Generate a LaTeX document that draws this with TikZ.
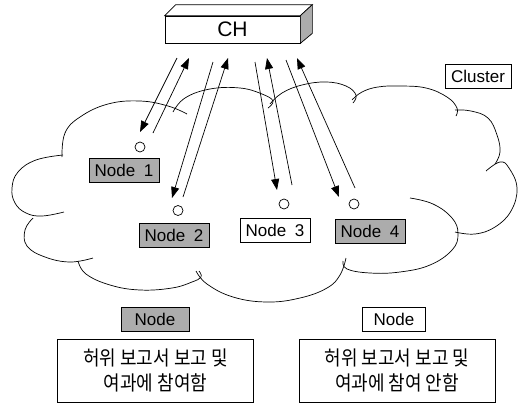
\documentclass[tikz,border=0pt]{standalone}
\usepackage{fontspec}
\setmainfont{Liberation Sans}
\newfontfamily\hangul{Noto Sans CJK KR}
\usetikzlibrary{arrows.meta,calc}
\definecolor{stipple}{RGB}{172,172,172}
\newcommand{\tallline}[1]{\scalebox{1}[1.12]{#1}}
\tikzset{
  thin line/.style={line width=0.7pt},
  label box/.style={draw, thin line, minimum width=70pt, minimum height=24pt,
    inner sep=0pt, font=\fontsize{17}{20}\selectfont},
  shaded box/.style={label box, fill=stipple},
  plain box/.style={label box, fill=white},
  antenna/.style={draw, thin line, circle, minimum size=10pt, inner sep=0pt},
  link/.style={thin line, -{Triangle[length=11pt,width=8pt]}},
  lump/.style={thin line},
  note box/.style={draw, thin line, minimum width=196pt, minimum height=63pt,
    inner sep=0pt, align=center, font=\hangul\fontsize{18}{25}\selectfont},
}
\begin{document}
\begin{tikzpicture}[x=1pt,y=-1pt]
\useasboundingbox (0,0) rectangle (525,405);

% cloud outline, one arc per lump
\draw[lump] plot[smooth,tension=0.7] coordinates {(64,212) (42,216) (26,213) (15,203) (12,188) (18,172) (36,160) (63,155)};
\draw[lump] plot[smooth,tension=0.7] coordinates {(62,157) (65,133) (80,117) (108,104) (140,101) (168,106) (187,114)};
\draw[lump] plot[smooth,tension=0.7] coordinates {(173,112) (185,98) (210,89) (240,88) (262,94) (273,101) (268,108)};
\draw[lump] plot[smooth,tension=0.7] coordinates {(270,104) (282,93) (302,85) (326,82) (346,86) (356,95) (353,103)};
\draw[lump] plot[smooth,tension=0.7] coordinates {(352,100) (362,92) (378,87) (400,86) (426,88) (447,97) (457,108) (456,116)};
\draw[lump] plot[smooth,tension=0.7] coordinates {(455,110) (471,111) (488,118) (497,135) (500,152) (495,164)};
\draw[lump] plot[smooth,tension=0.7] coordinates {(486,171) (500,162) (509,168) (517,188) (511,211) (495,227) (475,234) (455,232)};
\draw[lump] plot[smooth,tension=0.7] coordinates {(410,198) (433,204) (452,218) (458,234) (452,250) (430,265) (400,272) (370,273) (347,269) (343,261)};
\draw[lump] plot[smooth,tension=0.7] coordinates {(346,258) (340,275) (327,288) (300,298) (267,302) (233,297) (207,284) (196,271)};
\draw[lump] plot[smooth,tension=0.7] coordinates {(199,271) (201,277) (192,282) (172,288) (140,290) (110,285) (86,274) (78,261)};
\draw[lump] plot[smooth,tension=0.7] coordinates {(33,218) (25,230) (27,246) (45,257) (70,262) (93,258)};

% cluster head drawn as a block
\node[draw, thin line, fill=white, minimum width=135pt, minimum height=27pt, inner sep=0pt,
  font=\fontsize{21}{24}\selectfont] (ch) at (232.5,29.5) {CH};
\coordinate (chtl) at ($(ch.north west)+(11,-11)$);
\coordinate (chtr) at ($(ch.north east)+(12,-11)$);
\coordinate (chbr) at ($(ch.south east)+(12,-10)$);
\draw[thin line, fill=white] (ch.north west) -- (chtl) -- (chtr) -- (ch.north east) -- cycle;
\draw[thin line, fill=stipple] (ch.north east) -- (chtr) -- (chbr) -- (ch.south east) -- cycle;

\node[plain box, minimum width=66pt] (cluster) at (478,76) {Cluster};

% member nodes
\node[antenna] (c1) at (140,147) {};
\node[antenna] (c2) at (178,210.5) {};
\node[antenna] (c3) at (284,204) {};
\node[antenna] (c4) at (354,204) {};
\node[shaded box] (n1) at (124,170) {Node\hspace{0.5em}1};
\node[shaded box] (n2) at (174,235.5) {Node\hspace{0.5em}2};
\node[plain box] (n3) at (275,230) {Node\hspace{0.5em}3};
\node[shaded box] (n4) at (370,231) {Node\hspace{0.5em}4};

% report links between the head and each node
\coordinate (d1s) at (177,58);  \coordinate (d1e) at (140,132);
\coordinate (u1s) at (153,133); \coordinate (u1e) at (189,58);
\coordinate (d2s) at (213,62);  \coordinate (d2e) at (172,198);
\coordinate (u2s) at (183,197); \coordinate (u2e) at (228,58);
\coordinate (d3s) at (255,62);  \coordinate (d3e) at (277,190);
\coordinate (u3s) at (292,185); \coordinate (u3e) at (267,58);
\coordinate (d4s) at (286,60);  \coordinate (d4e) at (339,197);
\coordinate (u4s) at (355,188); \coordinate (u4e) at (297,58);
\foreach \k in {1,2,3,4}{
  \draw[link] (d\k s) -- (d\k e);
  \draw[link] (u\k s) -- (u\k e);
}

% legend
\node[shaded box, minimum width=68pt] (lg1) at (155,319.5) {Node};
\node[plain box, minimum width=63pt] (lg2) at (394,319.5) {Node};
\node[note box] (t1) at (155.5,370.5) {\tallline{허위 보고서 보고 및}\\\tallline{여과에 참여함}};
\node[note box] (t2) at (397,370.5) {\tallline{허위 보고서 보고 및}\\\tallline{여과에 참여 안함}};
\end{tikzpicture}
\end{document}
